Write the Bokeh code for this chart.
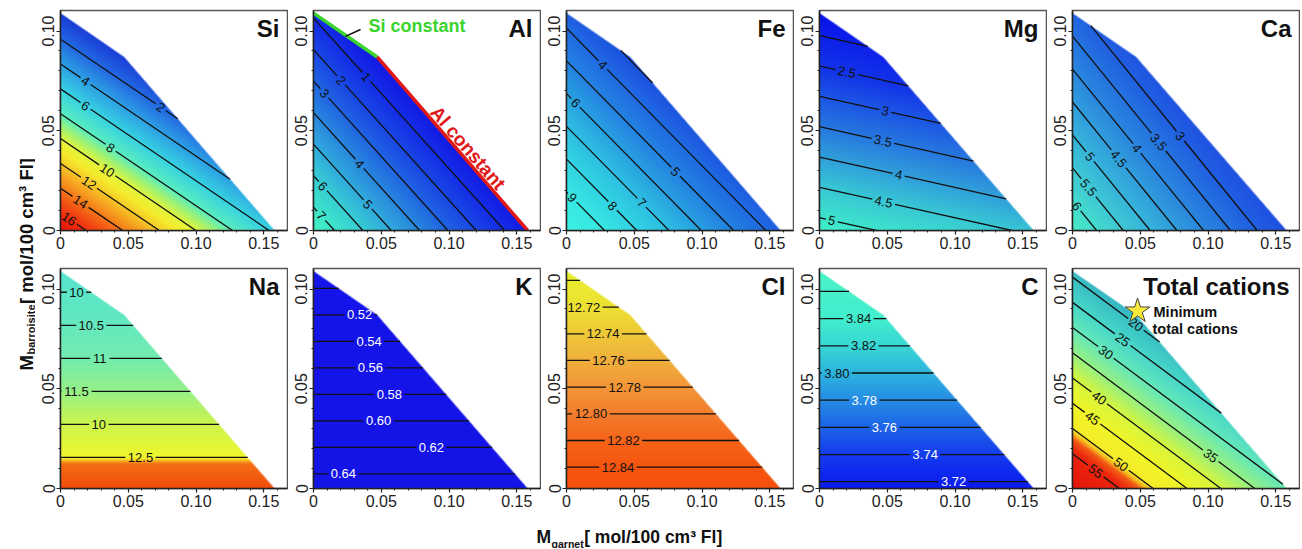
import math
import numpy as np
from bokeh.plotting import figure
from bokeh.layouts import row, column
from bokeh.models import Range1d, FixedTicker, CustomJSTickFormatter, ColumnDataSource
from bokeh.core.properties import value
from bokeh.embed import file_html
from bokeh.resources import INLINE

FONT = "Liberation Sans"

# ---------------- data ----------------
# composition domain (M_garnet, M_barroisite), counter-clockwise
domain_x = [0.0, 0.158, 0.047, 0.0]
domain_y = [0.0, 0.0, 0.087, 0.109]
x_end = 0.1675
y_end = 0.1103

x_major = [0.0, 0.05, 0.10, 0.15]
x_minor = [0.01, 0.02, 0.03, 0.04, 0.06, 0.07, 0.08, 0.09, 0.11, 0.12, 0.13, 0.14, 0.16]
y_major = [0.0, 0.05, 0.10]
y_minor = [0.01, 0.02, 0.03, 0.04, 0.06, 0.07, 0.08, 0.09]

# values read at the domain corners: (0,0), (0.158,0), (0,0.109)
si_corner_values = [17.4, 5.7, -0.1]
si_levels = [2, 4, 6, 8, 10, 12, 14, 16]
si_labels = ["2", "4", "6", "8", "10", "12", "14", "16"]
si_label_x = [0.074, 0.0185, 0.0185, 0.037, 0.0345, 0.021, 0.0148, 0.0062]
si_stop_values = [-0.1, 2, 4, 6, 8, 9, 10, 11, 12, 13, 14, 15, 16, 17.4]
si_stop_colors = ["#193cd7", "#2369e1", "#2da0e4", "#37d2e1", "#5aeebe", "#a0f273",
                  "#e1f53c", "#f5eb2d", "#f6c828", "#f6a020", "#f5781a", "#f25014",
                  "#ee2d0f", "#e6140a"]

al_corner_values = [7.74, 0.19, 0.84]
al_levels = [1, 2, 3, 4, 5, 6, 7]
al_labels = ["1", "2", "3", "4", "5", "6", "7"]
al_label_x = [0.039, 0.0204, 0.0081, 0.034, 0.040, 0.0069, 0.0057]
al_stop_values = [0.19, 1, 2, 3, 4, 5, 6, 7, 7.74]
al_stop_colors = ["#121ce4", "#142de6", "#1946e4", "#2064e1", "#2887de", "#30aadc",
                  "#37cdd4", "#3ee6c8", "#42f0c3"]

fe_corner_values = [10.18, 3.54, 3.54]
fe_levels = [3, 4, 5, 6, 7, 8, 9]
fe_labels = ["", "4", "5", "6", "7", "8", "9"]
fe_label_x = [0.0, 0.0268, 0.0805, 0.0068, 0.0555, 0.034, 0.0043]
fe_stop_values = [2.9, 3.54, 5, 6, 7, 8, 9, 10.18]
fe_stop_colors = ["#1a50de", "#1e5fe1", "#2382e1", "#28a0e1", "#2dbee2", "#32d4e2",
                  "#37e6e2", "#3cf2e1"]

mg_corner_values = [5.21, 4.42, 1.63]
mg_levels = [2, 2.5, 3, 3.5, 4, 4.5, 5]
mg_labels = ["", "2.5", "3", "3.5", "4", "4.5", "5"]
mg_label_x = [0.0, 0.0202, 0.0485, 0.0468, 0.0584, 0.0473, 0.0091]
mg_stop_values = [1.63, 2.5, 3, 3.5, 4, 4.5, 5.21]
mg_stop_colors = ["#0812eb", "#1232e8", "#1c55e4", "#2678de", "#30a0da", "#38c8d4", "#40f0c8"]

ca_corner_values = [6.45, 2.45, 3.15]
ca_levels = [3, 3.5, 4, 4.5, 5, 5.5, 6]
ca_labels = ["3", "3.5", "4", "4.5", "5", "5.5", "6"]
ca_label_x = [0.0796, 0.0635, 0.0475, 0.034, 0.013, 0.0118, 0.0032]
ca_stop_values = [2.45, 3, 4, 5, 6, 6.45]
ca_stop_colors = ["#1e50e1", "#205fe1", "#2a87de", "#37b4da", "#44dccd", "#4bebc6"]

na_corner_values = [12.97, 12.97, 9.68]
na_levels = [10, 10.5, 11, 11.5, 12, 12.5]
na_labels = ["10", "10.5", "11", "11.5", "10", "12.5"]
na_label_x = [0.0118, 0.0227, 0.029, 0.0118, 0.0283, 0.059]
na_stop_values = [9.68, 10.5, 11, 11.5, 12, 12.5, 12.53, 12.56, 12.6, 12.97]
na_stop_colors = ["#55e4cd", "#64e8be", "#73ecaf", "#96f087", "#cdf44b", "#eef52d",
                  "#f5d728", "#f5a01e", "#f56e14", "#f04b0c"]

k_corner_values = [0.651, 0.651, 0.487]
k_levels = [0.50, 0.52, 0.54, 0.56, 0.58, 0.60, 0.62, 0.64]
k_labels = ["", "0.52", "0.54", "0.56", "0.58", "0.60", "0.62", "0.64"]
k_label_x = [0.0, 0.034, 0.041, 0.042, 0.056, 0.048, 0.087, 0.022]
k_stop_values = [0.487, 0.651]
k_stop_colors = ["#1414eb", "#1414e6"]

cl_corner_values = [12.856, 12.856, 12.693]
cl_levels = [12.70, 12.72, 12.74, 12.76, 12.78, 12.80, 12.82, 12.84]
cl_labels = ["", "12.72", "12.74", "12.76", "12.78", "12.80", "12.82", "12.84"]
cl_label_x = [0.0, 0.0128, 0.027, 0.031, 0.043, 0.018, 0.042, 0.038]
cl_stop_values = [12.693, 12.72, 12.74, 12.76, 12.78, 12.80, 12.82, 12.84, 12.856]
cl_stop_colors = ["#e8f02d", "#ece132", "#eec837", "#f0af3c", "#f29637", "#f37d2d",
                  "#f56419", "#f5550f", "#f5500c"]

c_corner_values = [3.715, 3.715, 3.875]
c_levels = [3.72, 3.74, 3.76, 3.78, 3.80, 3.82, 3.84, 3.86]
c_labels = ["3.72", "3.74", "3.76", "3.78", "3.80", "3.82", "3.84", ""]
c_label_x = [0.099, 0.078, 0.0478, 0.033, 0.0128, 0.0325, 0.0288, 0.0]
c_stop_values = [3.715, 3.74, 3.76, 3.78, 3.80, 3.82, 3.84, 3.875]
c_stop_colors = ["#0a19f0", "#143cec", "#1c64e8", "#268ce4", "#2db4de", "#37d7d4",
                 "#41eecd", "#4bf2c8"]

tot_corner_values = [61.9, 30.3, 18.8]
tot_levels = [20, 25, 30, 35, 40, 45, 50, 55]
tot_labels = ["20", "25", "30", "35", "40", "45", "50", "55"]
tot_label_x = [0.0468, 0.037, 0.0246, 0.102, 0.0197, 0.0148, 0.0357, 0.0172]
tot_stop_values = [18.8, 22, 25, 30, 35, 40, 45, 50, 51, 52, 54, 61.9]
tot_stop_colors = ["#37b9c3", "#3ec8c6", "#48d7c8", "#64e8b9", "#96f082", "#d7f53c",
                   "#f0f528", "#f5eb28", "#f5b420", "#f25a14", "#ec280e", "#e6140a"]

star_x = [0.048]
star_y = [0.089]

panels = [
    ("Si", si_corner_values, si_levels, si_labels, si_label_x, si_stop_values, si_stop_colors, None),
    ("Al", al_corner_values, al_levels, al_labels, al_label_x, al_stop_values, al_stop_colors, None),
    ("Fe", fe_corner_values, fe_levels, fe_labels, fe_label_x, fe_stop_values, fe_stop_colors, None),
    ("Mg", mg_corner_values, mg_levels, mg_labels, mg_label_x, mg_stop_values, mg_stop_colors, None),
    ("Ca", ca_corner_values, ca_levels, ca_labels, ca_label_x, ca_stop_values, ca_stop_colors, None),
    ("Na", na_corner_values, na_levels, na_labels, na_label_x, na_stop_values, na_stop_colors, None),
    ("K", k_corner_values, k_levels, k_labels, k_label_x, k_stop_values, k_stop_colors, ["#ffffff"] * 8),
    ("Cl", cl_corner_values, cl_levels, cl_labels, cl_label_x, cl_stop_values, cl_stop_colors, None),
    ("C", c_corner_values, c_levels, c_labels, c_label_x, c_stop_values, c_stop_colors,
     ["#ffffff"] * 4 + ["#111111"] * 4),
    ("Total cations", tot_corner_values, tot_levels, tot_labels, tot_label_x, tot_stop_values,
     tot_stop_colors, None),
]

# ---------------- geometry helpers ----------------
FW, FH = 227, 220
BL, BR = 25, 1
YW = 35
KX = FW / x_end
KY = FH / y_end
verts = list(zip(domain_x, domain_y))
CW = {"0": 0.556, "1": 0.556, "2": 0.556, "3": 0.556, "4": 0.556, "5": 0.556,
      "6": 0.556, "7": 0.556, "8": 0.556, "9": 0.556, ".": 0.278, "-": 0.333}
LABEL_PX = 13


def hex_rgb(h):
    return int(h[1:3], 16), int(h[3:5], 16), int(h[5:7], 16)


def coverage(X, Y):
    sx, sy = X * KX, Y * KY
    d = np.full(X.shape, np.inf)
    n = len(verts)
    for i in range(n):
        ax_, ay_ = verts[i][0] * KX, verts[i][1] * KY
        bx_, by_ = verts[(i + 1) % n][0] * KX, verts[(i + 1) % n][1] * KY
        ex, ey = bx_ - ax_, by_ - ay_
        ln = math.hypot(ex, ey)
        nx, ny = -ey / ln, ex / ln
        d = np.minimum(d, (sx - ax_) * nx + (sy - ay_) * ny)
    return np.clip(d + 0.5, 0, 1)


def clip_line(p0, dvec):
    tmin, tmax = -1e9, 1e9
    n = len(verts)
    for i in range(n):
        ax_, ay_ = verts[i]
        bx_, by_ = verts[(i + 1) % n]
        nx, ny = -(by_ - ay_), (bx_ - ax_)
        num = nx * (p0[0] - ax_) + ny * (p0[1] - ay_)
        den = nx * dvec[0] + ny * dvec[1]
        if abs(den) < 1e-18:
            if num < 0:
                return None
            continue
        t = -num / den
        if den > 0:
            tmin = max(tmin, t)
        else:
            tmax = min(tmax, t)
    if tmax <= tmin:
        return None
    return tmin, tmax


def style_axes(p):
    for ax in (p.xaxis[0], p.yaxis[0]):
        ax.axis_line_color = "#222222"
        ax.axis_line_width = 1.5
        ax.major_tick_line_color = "#222222"
        ax.major_tick_line_width = 1.2
        ax.minor_tick_line_color = "#222222"
        ax.minor_tick_line_width = 1.0
        ax.major_tick_out = 4
        ax.major_tick_in = 0
        ax.minor_tick_out = 2
        ax.minor_tick_in = 0
        ax.major_label_text_font = FONT
        ax.major_label_text_font_size = "16px"
        ax.major_label_text_color = "#222222"
        ax.major_label_standoff = 2
        ax.formatter = CustomJSTickFormatter(code="return tick == 0 ? '0' : tick.toFixed(2);")
    p.xaxis[0].ticker = FixedTicker(ticks=x_major, minor_ticks=x_minor)
    p.yaxis[0].ticker = FixedTicker(ticks=y_major, minor_ticks=y_minor)
    p.yaxis[0].major_label_orientation = "parallel"


def make_panel(idx, spec):
    name, corners, levels, labels, label_x, stop_vals, stop_cols, lab_cols = spec
    top_row = idx < 5
    p = figure(frame_width=FW, frame_height=FH,
               x_range=Range1d(0, x_end), y_range=Range1d(0, y_end),
               min_border_left=BL, min_border_right=BR,
               min_border_top=10 if top_row else 2,
               min_border_bottom=36 if top_row else 24,
               output_backend="svg", toolbar_location=None, tools="")
    p.grid.visible = False
    p.outline_line_color = "#555555"
    p.outline_line_width = 1.5
    p.background_fill_color = "white"
    p.border_fill_color = "white"
    style_axes(p)

    v00, vr, vt = corners
    gx = (vr - v00) / domain_x[1]
    gy = (vt - v00) / domain_y[3]

    xs = (np.arange(FW) + 0.5) / KX
    ys = (np.arange(FH) + 0.5) / KY
    X, Y = np.meshgrid(xs, ys)
    V = v00 + gx * X + gy * Y
    rgb = [hex_rgb(c) for c in stop_cols]
    rgba = np.zeros((FH, FW, 4), dtype=np.uint8)
    for ch in range(3):
        rgba[..., ch] = np.round(np.interp(V, stop_vals, [c[ch] for c in rgb])).astype(np.uint8)
    rgba[..., 3] = np.round(coverage(X, Y) * 255).astype(np.uint8)
    img = rgba.view(np.uint32).reshape(FH, FW)
    p.image_rgba(image=[img], x=0, y=0, dw=x_end, dh=y_end)

    seg_x, seg_y = [], []
    lx, ly, lt, la, lc = [], [], [], [], []
    for k, L in enumerate(levels):
        p0 = (0.0, (L - v00) / gy)
        dvec = (gy, -gx)
        if dvec[0] < 0:
            dvec = (-dvec[0], -dvec[1])
        res = clip_line(p0, dvec)
        if res is None:
            continue
        tmin, tmax = res
        lab = labels[k]
        pieces = []
        if lab:
            tl = (label_x[k] - p0[0]) / dvec[0]
            ds = math.hypot(dvec[0] * KX, dvec[1] * KY)
            wpx = sum(CW.get(ch, 0.556) for ch in lab) * LABEL_PX
            dt = (wpx / 2 + 2.5) / ds
            if tmin < tl - dt:
                pieces.append((tmin, min(tl - dt, tmax)))
            if tl + dt < tmax:
                pieces.append((max(tl + dt, tmin), tmax))
            lx.append(p0[0] + tl * dvec[0])
            ly.append(p0[1] + tl * dvec[1])
            lt.append(lab)
            la.append(math.atan2(dvec[1] * KY, dvec[0] * KX))
            lc.append(lab_cols[k] if lab_cols else "#111111")
        else:
            pieces.append((tmin, tmax))
        for a, b in pieces:
            seg_x.append([p0[0] + a * dvec[0], p0[0] + b * dvec[0]])
            seg_y.append([p0[1] + a * dvec[1], p0[1] + b * dvec[1]])
    p.multi_line(xs=seg_x, ys=seg_y, line_color="#111111", line_width=1.3)
    src = ColumnDataSource(dict(x=lx, y=ly, t=lt, a=la, c=lc))
    p.text(x="x", y="y", text="t", angle="a", text_color="c", source=src,
           text_font=value(FONT), text_font_size="13px",
           text_align="center", text_baseline="middle")

    # panel title
    big = name == "Total cations"
    p.text(x=[x_end], y=[y_end], text=[name], x_offset=-10 if big else -8, y_offset=4,
           text_align="right", text_baseline="top", text_color="#111111",
           text_font=value(FONT), text_font_style="bold",
           text_font_size="24px")

    if name == "Al":
        p.line(x=[domain_x[3], domain_x[2]], y=[domain_y[3], domain_y[2]],
               line_color="#3ad42c", line_width=3.5)
        p.line(x=[domain_x[2], domain_x[1]], y=[domain_y[2], domain_y[1]],
               line_color="#e01818", line_width=3.5)
        p.line(x=[0.0236, 0.0347], y=[0.0973, 0.1008], line_color="#111111", line_width=1.5)
        p.text(x=[0.0406], y=[0.1023], text=["Si constant"], text_align="left",
               text_baseline="middle", text_color="#3ad42c", text_font=value(FONT),
               text_font_style="bold", text_font_size="18px")
        ang = math.atan2((domain_y[1] - domain_y[2]) * KY, (domain_x[1] - domain_x[2]) * KX)
        p.text(x=[0.114], y=[0.0414], text=["Al constant"], angle=ang, text_align="center",
               text_baseline="middle", text_color="#e01818", text_font=value(FONT),
               text_font_style="bold", text_font_size="19px")
    if big:
        p.scatter(x=star_x, y=star_y, marker="star", size=26, fill_color="#f7e83a",
                  line_color="#444444", line_width=1)
        p.text(x=[0.0598, 0.059], y=[0.0884, 0.0801], text=["Minimum", "total cations"],
               text_align="left", text_baseline="middle", text_color="#111111",
               text_font=value(FONT), text_font_style="bold", text_font_size="14.5px")
    return p


figs = [make_panel(i, s) for i, s in enumerate(panels)]

TOTAL_W = YW + 5 * (BL + FW + BR)
GRID_H = (10 + FH + 36) + (2 + FH + 24)

# y axis title (screen-pixel coordinates inside a bare figure)
yfig = figure(width=YW, height=GRID_H, x_range=Range1d(0, YW), y_range=Range1d(0, GRID_H),
              min_border=0, x_axis_location=None, y_axis_location=None,
              output_backend="svg", toolbar_location=None, tools="")
yfig.grid.visible = False
yfig.outline_line_color = None
YF, YS = 18.5, 11
y0 = GRID_H - 370
yfig.text(x=[25.5], y=[y0], text=["M"], angle=math.pi / 2, text_align="left",
          text_baseline="alphabetic", text_color="#111111", text_font=value(FONT),
          text_font_style="bold", text_font_size=f"{YF}px")
y1 = y0 + 0.833 * YF + 0.5
yfig.text(x=[30], y=[y1], text=["barroisite"], angle=math.pi / 2, text_align="left",
          text_baseline="alphabetic", text_color="#111111", text_font=value(FONT),
          text_font_style="bold", text_font_size=f"{YS}px")
y2 = y1 + 4.557 * YS + 0.5
yfig.text(x=[25.5], y=[y2], text=["[ mol/100 cm³ Fl]"], angle=math.pi / 2, text_align="left",
          text_baseline="alphabetic", text_color="#111111", text_font=value(FONT),
          text_font_style="bold", text_font_size=f"{YF}px")

# x axis title
XH = 36
xfig = figure(width=TOTAL_W, height=XH, x_range=Range1d(0, TOTAL_W), y_range=Range1d(0, XH),
              min_border=0, x_axis_location=None, y_axis_location=None,
              output_backend="svg", toolbar_location=None, tools="")
xfig.grid.visible = False
xfig.outline_line_color = None
x0 = 536
xfig.text(x=[x0], y=[12], text=["M"], text_align="left", text_baseline="alphabetic",
          text_color="#111111", text_font=value(FONT), text_font_style="bold",
          text_font_size="17.5px")
x1 = x0 + 0.833 * 17.5 + 0.5
xfig.text(x=[x1], y=[5], text=["garnet"], text_align="left", text_baseline="alphabetic",
          text_color="#111111", text_font=value(FONT), text_font_style="bold",
          text_font_size="10.5px")
x2 = x1 + 3.056 * 10.5 + 0.5
xfig.text(x=[x2], y=[12], text=["[ mol/100 cm³ Fl]"], text_align="left",
          text_baseline="alphabetic", text_color="#111111", text_font=value(FONT),
          text_font_style="bold", text_font_size="17.5px")

grid = column(row(*figs[:5]), row(*figs[5:]))
layout = column(row(yfig, grid), xfig)

open("out.html", "w").write(file_html(layout, INLINE))
